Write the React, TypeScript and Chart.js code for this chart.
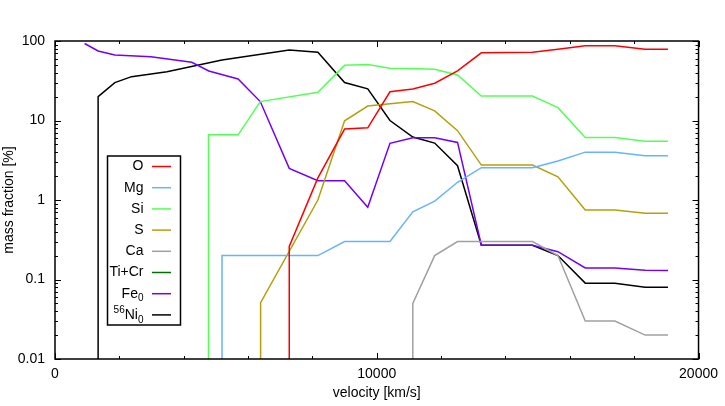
import React, { useEffect, useRef } from "react";
import { Chart, registerables } from "chart.js";

Chart.register(...registerables);

// ---- data (velocity in km/s, mass fraction in %) ----
// 0.0001 marks an abundance that is effectively zero (below the axis floor)
const velO = [7280, 7280, 8170, 9000, 9720, 10410, 11120, 11800, 12510, 13250, 14840, 15630, 16480, 17400, 18340, 19050];
const massO = [0.0001, 0.26, 1.9, 7.8, 8.1, 23, 24.9, 29.4, 42, 71, 72, 78.7, 87, 87, 78.7, 78.7];

const velMg = [5190, 5190, 8170, 9000, 10410, 11120, 11800, 12510, 13250, 14840, 15630, 16480, 17400, 18340, 19050];
const massMg = [0.0001, 0.2, 0.2, 0.3, 0.3, 0.71, 0.97, 1.67, 2.55, 2.55, 3.1, 4.0, 4.0, 3.6, 3.6];

const velSi = [4770, 4770, 5690, 6380, 8170, 9000, 9720, 10410, 11120, 11800, 12510, 13250, 14840, 15630, 16480, 17400, 18340, 19050];
const massSi = [0.0001, 6.6, 6.6, 17.3, 22.6, 49.4, 50.5, 45.4, 45, 44, 37.3, 20.3, 20.3, 14.5, 6.1, 6.1, 5.5, 5.5];

const velS = [6390, 6390, 8170, 9000, 9720, 10410, 11120, 11800, 12510, 13250, 14840, 15630, 16480, 17400, 18340, 19050];
const massS = [0.0001, 0.051, 1.0, 9.9, 15.2, 16.2, 17.3, 13.2, 7.45, 2.75, 2.75, 1.96, 0.75, 0.75, 0.68, 0.68];

const velCa = [11120, 11120, 11800, 12510, 14840, 15630, 16480, 17400, 18340, 19050];
const massCa = [0.0001, 0.05, 0.2, 0.3, 0.3, 0.2, 0.03, 0.03, 0.02, 0.02];

const velTiCr: number[] = [];
const massTiCr: number[] = [];

const velFe = [920, 1340, 1860, 2980, 4250, 4780, 5690, 6380, 7280, 8170, 9000, 9720, 10410, 11120, 11800, 12510, 13250, 14840, 15630, 16480, 17400, 18340, 19050];
const massFe = [93, 75, 66.7, 63.5, 54, 42, 33.3, 17.3, 2.5, 1.75, 1.75, 0.81, 5.17, 6.08, 6.08, 5.3, 0.27, 0.27, 0.224, 0.14, 0.14, 0.131, 0.13];

const velNi = [1340, 1340, 1860, 2380, 3480, 5190, 7280, 8170, 9000, 9720, 10410, 11120, 11800, 12510, 13250, 14840, 15630, 16480, 17400, 18340, 19050];
const massNi = [0.0001, 20, 30, 35.6, 41, 57.7, 77, 72, 30, 25, 10, 6.2, 5.2, 2.7, 0.27, 0.27, 0.2, 0.09, 0.09, 0.08, 0.08];

const seriesLabels = ["O", "Mg", "Si", "S", "Ca", "Ti+Cr", "Fe0", "56Ni0"];
const seriesColors = ["#ff0000", "#66b3ff", "#55ff55", "#b5a00c", "#a0a0a0", "#007000", "#7000ff", "#000000"];

const xTicks = [0, 10000, 20000];
const xMinorStep = 2000;
const yTicks = [0.01, 0.1, 1, 10, 100];

// rich legend labels (super/subscripts)
type Part = { t: string; sub?: boolean; sup?: boolean };
const legendParts: Part[][] = [
  [{ t: "O" }],
  [{ t: "Mg" }],
  [{ t: "Si" }],
  [{ t: "S" }],
  [{ t: "Ca" }],
  [{ t: "Ti+Cr" }],
  [{ t: "Fe" }, { t: "0", sub: true }],
  [{ t: "56", sup: true }, { t: "Ni" }, { t: "0", sub: true }],
];

const FONT = "'Liberation Sans', Arial, Helvetica, sans-serif";
const FS = 14;
const FS_SMALL = 10;

function pairs(v: number[], m: number[]) {
  return v.map((x, i) => ({ x, y: m[i] }));
}

const framePlugin = {
  id: "gnuFrame",
  afterDraw(chart: any) {
    const { ctx, chartArea: a, scales } = chart;
    const xs = scales.x;
    const ys = scales.y;
    ctx.save();
    // ticks (inward, mirrored)
    ctx.strokeStyle = "#000";
    ctx.lineWidth = 1;
    ctx.beginPath();
    for (let v = xs.min; v <= xs.max; v += xMinorStep) {
      const px = Math.round(xs.getPixelForValue(v)) + 0.5;
      const len = xTicks.includes(v) ? 6 : 3;
      ctx.moveTo(px, a.bottom);
      ctx.lineTo(px, a.bottom - len);
      ctx.moveTo(px, a.top);
      ctx.lineTo(px, a.top + len);
    }
    for (let d = 0; d < yTicks.length; d++) {
      const base = yTicks[d];
      const steps = d === yTicks.length - 1 ? 1 : 9;
      for (let m = 1; m <= steps; m++) {
        const py = Math.round(ys.getPixelForValue(base * m)) + 0.5;
        const len = m === 1 ? 6 : 3;
        ctx.moveTo(a.left, py);
        ctx.lineTo(a.left + len, py);
        ctx.moveTo(a.right, py);
        ctx.lineTo(a.right - len, py);
      }
    }
    ctx.stroke();
    // border
    ctx.lineWidth = 1.5;
    ctx.strokeRect(a.left, a.top, a.right - a.left, a.bottom - a.top);

    // legend box
    const bx = 107.5, by = 156, bw = 73, bh = 169;
    ctx.fillStyle = "#fff";
    ctx.fillRect(bx, by, bw, bh);
    ctx.strokeRect(bx, by, bw, bh);
    const textRight = 143.5;
    const lineX0 = 152, lineX1 = 171;
    const y0 = 166.5, dy = 21.2;
    chart.data.datasets.forEach((ds: any, i: number) => {
      const yy = y0 + i * dy;
      const parts = legendParts[i];
      const w = parts.reduce((acc, p) => {
        ctx.font = (p.sub || p.sup ? FS_SMALL : FS) + "px " + FONT;
        return acc + ctx.measureText(p.t).width;
      }, 0);
      let cx = textRight - w;
      ctx.fillStyle = "#000";
      ctx.textAlign = "left";
      ctx.textBaseline = "middle";
      parts.forEach((p) => {
        ctx.font = (p.sub || p.sup ? FS_SMALL : FS) + "px " + FONT;
        const off = p.sub ? 5 : p.sup ? -5 : 0;
        ctx.fillText(p.t, cx, yy + off);
        cx += ctx.measureText(p.t).width;
      });
      ctx.strokeStyle = ds.borderColor;
      ctx.lineWidth = 1.5;
      ctx.beginPath();
      ctx.moveTo(lineX0, yy);
      ctx.lineTo(lineX1, yy);
      ctx.stroke();
    });
    ctx.restore();
  },
};

export default function App() {
  const ref = useRef<HTMLCanvasElement | null>(null);
  useEffect(() => {
    if (!ref.current) return;
    const vels = [velO, velMg, velSi, velS, velCa, velTiCr, velFe, velNi];
    const masses = [massO, massMg, massSi, massS, massCa, massTiCr, massFe, massNi];
    const chart = new Chart(ref.current, {
      type: "line",
      data: {
        datasets: seriesLabels.map((label, i) => ({
          label,
          data: pairs(vels[i], masses[i]),
          borderColor: seriesColors[i],
          backgroundColor: seriesColors[i],
          borderWidth: 1.5,
          pointRadius: 0,
          tension: 0,
          fill: false,
        })),
      },
      options: {
        responsive: false,
        animation: false,
        layout: { padding: { left: 0, top: 41, right: 25, bottom: 0 } },
        plugins: { legend: { display: false }, tooltip: { enabled: false } },
        font: { family: FONT, size: FS },
        scales: {
          x: {
            type: "linear",
            min: 0,
            max: 20000,
            grid: { display: false, drawTicks: false },
            border: { display: false },
            afterBuildTicks: (s: any) => {
              s.ticks = xTicks.map((value) => ({ value }));
            },
            afterFit: (s: any) => {
              s.height = 47;
            },
            ticks: {
              autoSkip: false,
              maxRotation: 0,
              padding: 7,
              color: "#000",
              font: { family: FONT, size: FS },
              callback: (v: any) => String(v),
            },
            title: {
              display: true,
              text: "velocity [km/s]",
              color: "#000",
              font: { family: FONT, size: FS },
              padding: { top: 0, bottom: 4 },
            },
          },
          y: {
            type: "logarithmic",
            min: 0.01,
            max: 100,
            grid: { display: false, drawTicks: false },
            border: { display: false },
            afterBuildTicks: (s: any) => {
              s.ticks = yTicks.map((value) => ({ value }));
            },
            afterFit: (s: any) => {
              s.width = 55;
            },
            ticks: {
              autoSkip: false,
              padding: 10,
              color: "#000",
              font: { family: FONT, size: FS },
              callback: (v: any) => String(v),
            },
            title: {
              display: true,
              text: "mass fraction [%]",
              color: "#000",
              font: { family: FONT, size: FS },
              padding: { top: 1, bottom: 0 },
            },
          },
        },
      } as any,
      plugins: [framePlugin],
    });
    return () => chart.destroy();
  }, []);
  return (
    <div style={{ position: "fixed", left: 0, top: 0, width: 725, height: 406, background: "#fff" }}>
      <canvas ref={ref} width={725} height={406} style={{ width: 725, height: 406, display: "block" }} />
    </div>
  );
}
